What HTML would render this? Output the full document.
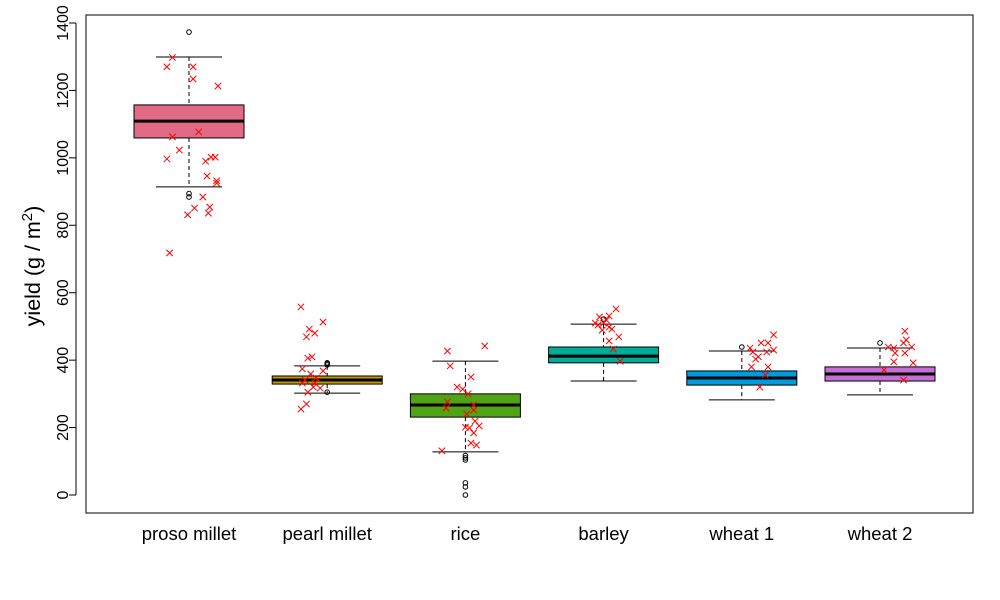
<!DOCTYPE html>
<html><head><meta charset="utf-8"><style>
html,body{margin:0;padding:0;background:#fff;}
svg{display:block;font-family:"Liberation Sans",Arial,sans-serif;}
</style></head><body>
<svg id="chart" width="1000" height="600">
<rect x="86" y="15" width="887" height="498" fill="none" stroke="#000" stroke-width="1"/>
<g id="yaxis"></g>
<g id="boxes"></g>
<g id="pts"></g>
<text transform="translate(40,266) rotate(-90)" text-anchor="middle" font-size="21.5">yield (g / m<tspan dy="-8" font-size="15">2</tspan><tspan dy="8">)</tspan></text>
</svg>
<script>
const categories=["proso millet","pearl millet","rice","barley","wheat 1","wheat 2"];
const colors=["#E16A86","#C29A00","#50A315","#00AD9A","#009ADE","#C86DD7"];
const q1=[1059,329,231,392,326,338];
const med=[1109,341,267,412,347,359];
const q3=[1157,353,300,439,368,380];
const whLo=[914,302,128,338,282,297];
const whHi=[1299,383,397,507,427,436];
const outliers=[[1373,894,884],[386,389,392,305],[117,110,104,36,24,0],[522],[439],[451]];
const yTicks=[0,200,400,600,800,1000,1200,1400];
const ptVals=[
[1298,1270,1270,1234,1213,1077,1062,1023,997,990,1002,1002,946,932,925,884,851,854,836,831,718],
[558,513,492,480,469,406,410,374,368,359,341,332,332,317,305,270,255,347,320],
[427,442,383,350,320,314,300,276,258,267,252,240,219,205,201,199,184,154,148,131],
[552,528,531,510,510,498,489,492,469,457,433,397,519,504],
[475,451,451,436,430,424,424,410,403,380,380,356,320],
[486,460,451,439,439,436,421,421,395,392,371,341]];
const ptJit=[
[-0.12,-0.16,0.03,0.03,0.21,0.07,-0.12,-0.07,-0.16,0.12,0.16,0.19,0.13,0.2,0.2,0.1,0.04,0.15,0.14,-0.01,-0.14],
[-0.19,-0.03,-0.13,-0.09,-0.15,-0.14,-0.11,-0.18,-0.03,-0.12,-0.16,-0.18,-0.09,-0.05,-0.14,-0.15,-0.19,-0.08,-0.1],
[-0.13,0.14,-0.11,0.04,-0.06,-0.02,0.02,-0.13,-0.14,0.06,0.06,0.01,0.07,0.1,0,0.03,0.06,0.04,0.08,-0.17],
[0.09,-0.03,0.04,-0.06,0.0,0.04,-0.01,0.06,0.11,0.04,0.07,0.12,0.02,-0.04],
[0.23,0.14,0.19,0.06,0.23,0.08,0.18,0.12,0.1,0.07,0.19,0.17,0.13],
[0.18,0.19,0.17,0.06,0.23,0.1,0.18,0.11,0.1,0.24,0.03,0.17]];
const NS="http://www.w3.org/2000/svg";
const X0=189,DX=138.2;
function xs(i){return X0+i*DX;}
function ys(v){return 495-v*(472/1400);}
function mk(tag,attrs,parent){const e=document.createElementNS(NS,tag);for(const k in attrs)e.setAttribute(k,attrs[k]);parent.appendChild(e);return e;}
const ya=document.getElementById('yaxis');
mk('line',{x1:76,x2:76,y1:ys(0),y2:ys(1400),stroke:'#000'},ya);
yTicks.forEach(t=>{
 const l=mk('line',{x1:69,x2:76,y1:ys(t),y2:ys(t),stroke:'#000'},ya);
 
 
 const tx=mk('text',{transform:`translate(68,${ys(t)}) rotate(-90)`,'text-anchor':'middle','font-size':16},ya);
 tx.textContent=t;
 
 
});
const bx=document.getElementById('boxes');
const hw=55,cw=33;
categories.forEach((c,i)=>{
 const x=xs(i);
 const g=mk('g',{},bx);
 
 
 mk('line',{x1:x,x2:x,y1:ys(whHi[i]),y2:ys(q3[i]),stroke:'#000','stroke-dasharray':'4,3'},g);
 mk('line',{x1:x,x2:x,y1:ys(q1[i]),y2:ys(whLo[i]),stroke:'#000','stroke-dasharray':'4,3'},g);
 mk('line',{x1:x-cw,x2:x+cw,y1:ys(whHi[i]),y2:ys(whHi[i]),stroke:'#000'},g);
 mk('line',{x1:x-cw,x2:x+cw,y1:ys(whLo[i]),y2:ys(whLo[i]),stroke:'#000'},g);
 mk('rect',{x:x-hw,y:ys(q3[i]),width:2*hw,height:ys(q1[i])-ys(q3[i]),fill:colors[i],stroke:'#000','stroke-width':1},g);
 mk('line',{x1:x-hw,x2:x+hw,y1:ys(med[i]),y2:ys(med[i]),stroke:'#000','stroke-width':3},g);
 outliers[i].forEach(v=>{mk('circle',{cx:x,cy:ys(v),r:2.3,fill:'none',stroke:'#000'},g);});
 const lb=mk('text',{x:x,y:540,'text-anchor':'middle','font-size':18.5},g);
 lb.textContent=c;
 
 
});
const pg=document.getElementById('pts');
ptVals.forEach((arr,i)=>{arr.forEach((v,j)=>{
 const x=xs(i+ptJit[i][j]),y=ys(v),s=3.2;
 const p=mk('path',{d:`M${x-s},${y-s}L${x+s},${y+s}M${x-s},${y+s}L${x+s},${y-s}`,stroke:'#FF0000','stroke-width':1},pg);
 
 
});});
</script>
</body></html>
